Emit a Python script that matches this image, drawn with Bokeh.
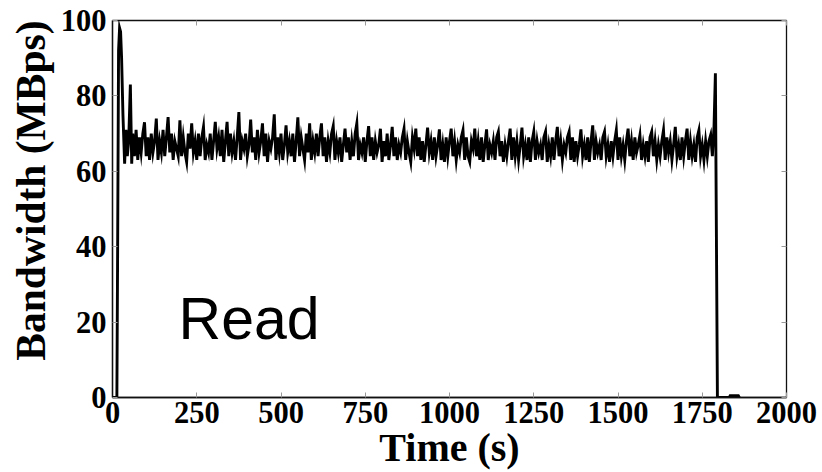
from bokeh.plotting import figure
from bokeh.models import LinearAxis, Range1d, Label, FixedTicker, ColumnDataSource, Title
from bokeh.embed import file_html
from bokeh.resources import INLINE

# ---------------- data ----------------
# start-up burst (seconds, MBps)
start_t = [0, 8, 13, 15, 18, 21, 24, 27, 31, 36, 40, 44, 48, 53, 57]
start_bw = [0, 0, 0, 35, 92, 98, 97, 90, 75, 62, 71, 64, 68, 83, 62]

# steady-state band, sampled every BAND_STEP seconds from BAND_T0
BAND_T0 = 60
BAND_STEP = 5
band_bw = [
    70, 64, 71, 63, 69, 65, 70,
    73.0, 64, 69, 63, 70, 65, 68,
    74.0, 63, 68, 65, 71, 64, 69,
    74.4, 65, 70, 63, 68, 66, 64,
    73.5, 64, 69, 65, 62.5, 70, 66,
    72.7, 65, 68, 63, 70, 64, 69,
    71.8, 63, 67, 65, 70, 63, 68,
    73.1, 66, 69, 64, 71, 62.5, 68,
    73.1, 64, 70, 65, 68, 63, 69,
    75.7, 63, 68, 66, 70, 64, 67,
    73.7, 65, 69, 63, 71, 65, 68,
    72.7, 64, 70, 62.5, 68, 66, 69,
    75.1, 63, 69, 65, 70, 63, 67,
    72.2, 65, 68, 64, 70, 62.5, 68,
    74.3, 64, 69, 66, 63, 70, 65,
    72.7, 63, 68, 65, 70, 64, 69,
    72.7, 64, 69, 62.5, 68, 65, 70,
    72.0, 63, 68, 65, 69, 62.5, 67,
    71.3, 65, 69, 63, 68, 64, 70,
    72.7, 63, 67, 65, 69, 62.5, 68,
    72.0, 64, 69, 63, 68, 65, 67,
    71.3, 62.5, 68, 64, 70, 63, 67,
    71.8, 64, 69, 63, 67, 65, 69,
    71.3, 63, 68, 65, 62.5, 69, 66,
    71.3, 64, 69, 63, 68, 62.5, 67,
    71.6, 65, 68, 63, 69, 64, 67,
    71.1, 63, 67, 62.5, 69, 64, 68,
    71.3, 64, 68, 63, 67, 65, 69,
    70.9, 63, 69, 64, 62.5, 68, 66,
    71.3, 64, 68, 63, 69, 62.5, 67,
    71.1, 63, 67, 65, 68, 63, 69,
    70.5, 64, 68, 62.5, 67, 64, 68,
    71.3, 63, 69, 64, 68, 63, 67,
    71.6, 64, 67, 63, 69, 62.5, 68,
    70.5, 63, 68, 65, 67, 63, 69,
    70.5, 62.5, 67, 64, 69, 63, 68,
    71.8, 64, 68, 63, 67, 65, 69,
    70.5, 63, 69, 62.5, 68, 64, 67,
    71.1, 64, 67, 63, 69, 62.5, 68,
    72.2, 63, 68, 65, 67, 63, 69,
    70.5, 64, 67, 62.5, 68, 64, 68,
    70.9, 63, 69, 64, 67, 63, 68,
    71.3, 64, 68, 63, 69, 65, 67,
    69.6, 63, 67, 64, 68, 62.5, 69,
    70.5, 64, 68, 63, 67, 64, 68,
    70.9, 63, 69, 65, 68, 63, 67,
    71.8, 64, 67, 63, 69, 64, 68,
    71.3, 63, 68, 64, 67, 62.5, 69,
    70.9, 64, 67, 63, 68, 64, 68,
    69.6, 64,
]

# final burst and shutdown
tail_t = [1785, 1789, 1795, 1830, 1833, 1857, 1860]
tail_bw = [72, 86, 0, 0, 0.5, 0.5, 0]

x_ticks = [0, 250, 500, 750, 1000, 1250, 1500, 1750, 2000]
y_ticks = [0, 20, 40, 60, 80, 100]
x_label = "Time (s)"
y_label = "Bandwidth (MBps)"
annotation = "Read"

# ---------------- assemble series ----------------
band_t = [BAND_T0 + BAND_STEP * i for i in range(len(band_bw))]
t = start_t + band_t + tail_t
bw = start_bw + band_bw + tail_bw
src = ColumnDataSource(dict(t=t, bw=bw))

p = figure(width=822, height=472,
           x_range=Range1d(0, 2000), y_range=Range1d(0, 100),
           output_backend="svg", toolbar_location=None,
           min_border_left=112, min_border_right=36,
           min_border_top=20, min_border_bottom=74)
p.xgrid.visible = False
p.ygrid.visible = False
p.outline_line_color = "#111111"
p.outline_line_width = 1.3
p.background_fill_color = "white"
p.border_fill_color = "white"

p.line("t", "bw", source=src, line_color="black", line_width=2.9,
       line_join="miter")

serif = "Liberation Serif"
for ax, ticks in ((p.xaxis[0], x_ticks), (p.yaxis[0], y_ticks)):
    ax.ticker = FixedTicker(ticks=ticks)
    ax.minor_tick_line_color = None
    ax.major_tick_in = 5
    ax.major_tick_out = 0
    ax.major_tick_line_color = "#999999"
    ax.axis_line_color = "#111111"
    ax.axis_line_width = 1.3
    ax.major_label_text_font = serif
    ax.major_label_text_font_style = "bold"
    ax.major_label_text_font_size = "30.5px"
    ax.major_label_text_color = "black"
    ax.axis_label_text_font = serif
    ax.axis_label_text_font_style = "bold"
    ax.axis_label_text_color = "black"

p.xaxis[0].axis_label = x_label
p.xaxis[0].axis_label_text_font_size = "40px"
p.xaxis[0].major_label_standoff = 4
p.xaxis[0].axis_label_standoff = -1
p.yaxis[0].major_label_standoff = 6

# y label as a left-side title so it can sit towards the top like the reference
p.add_layout(Title(text=y_label, align="right", offset=0, text_font=serif,
                   text_font_style="bold", text_font_size="41.5px",
                   text_color="black", standoff=7), "left")

# mirrored ticks on top and right (no labels drawn)
right = LinearAxis(ticker=FixedTicker(ticks=y_ticks), axis_line_color=None,
                   major_tick_in=5, major_tick_out=0, major_tick_line_color="#999999",
                   minor_tick_line_color=None, major_label_text_font_size="8px",
                   major_label_text_color=None, major_label_standoff=0)
top = LinearAxis(ticker=FixedTicker(ticks=x_ticks), axis_line_color=None,
                 major_tick_in=5, major_tick_out=0, major_tick_line_color="#999999",
                 minor_tick_line_color=None, major_label_text_font_size="8px",
                 major_label_text_color=None, major_label_standoff=0)
p.add_layout(right, "right")
p.add_layout(top, "above")

p.add_layout(Label(x=196, y=20.8, text=annotation, text_font="Liberation Sans",
                   text_font_size="59px", text_baseline="alphabetic", text_color="black"))

open("out.html", "w").write(file_html(p, INLINE))
